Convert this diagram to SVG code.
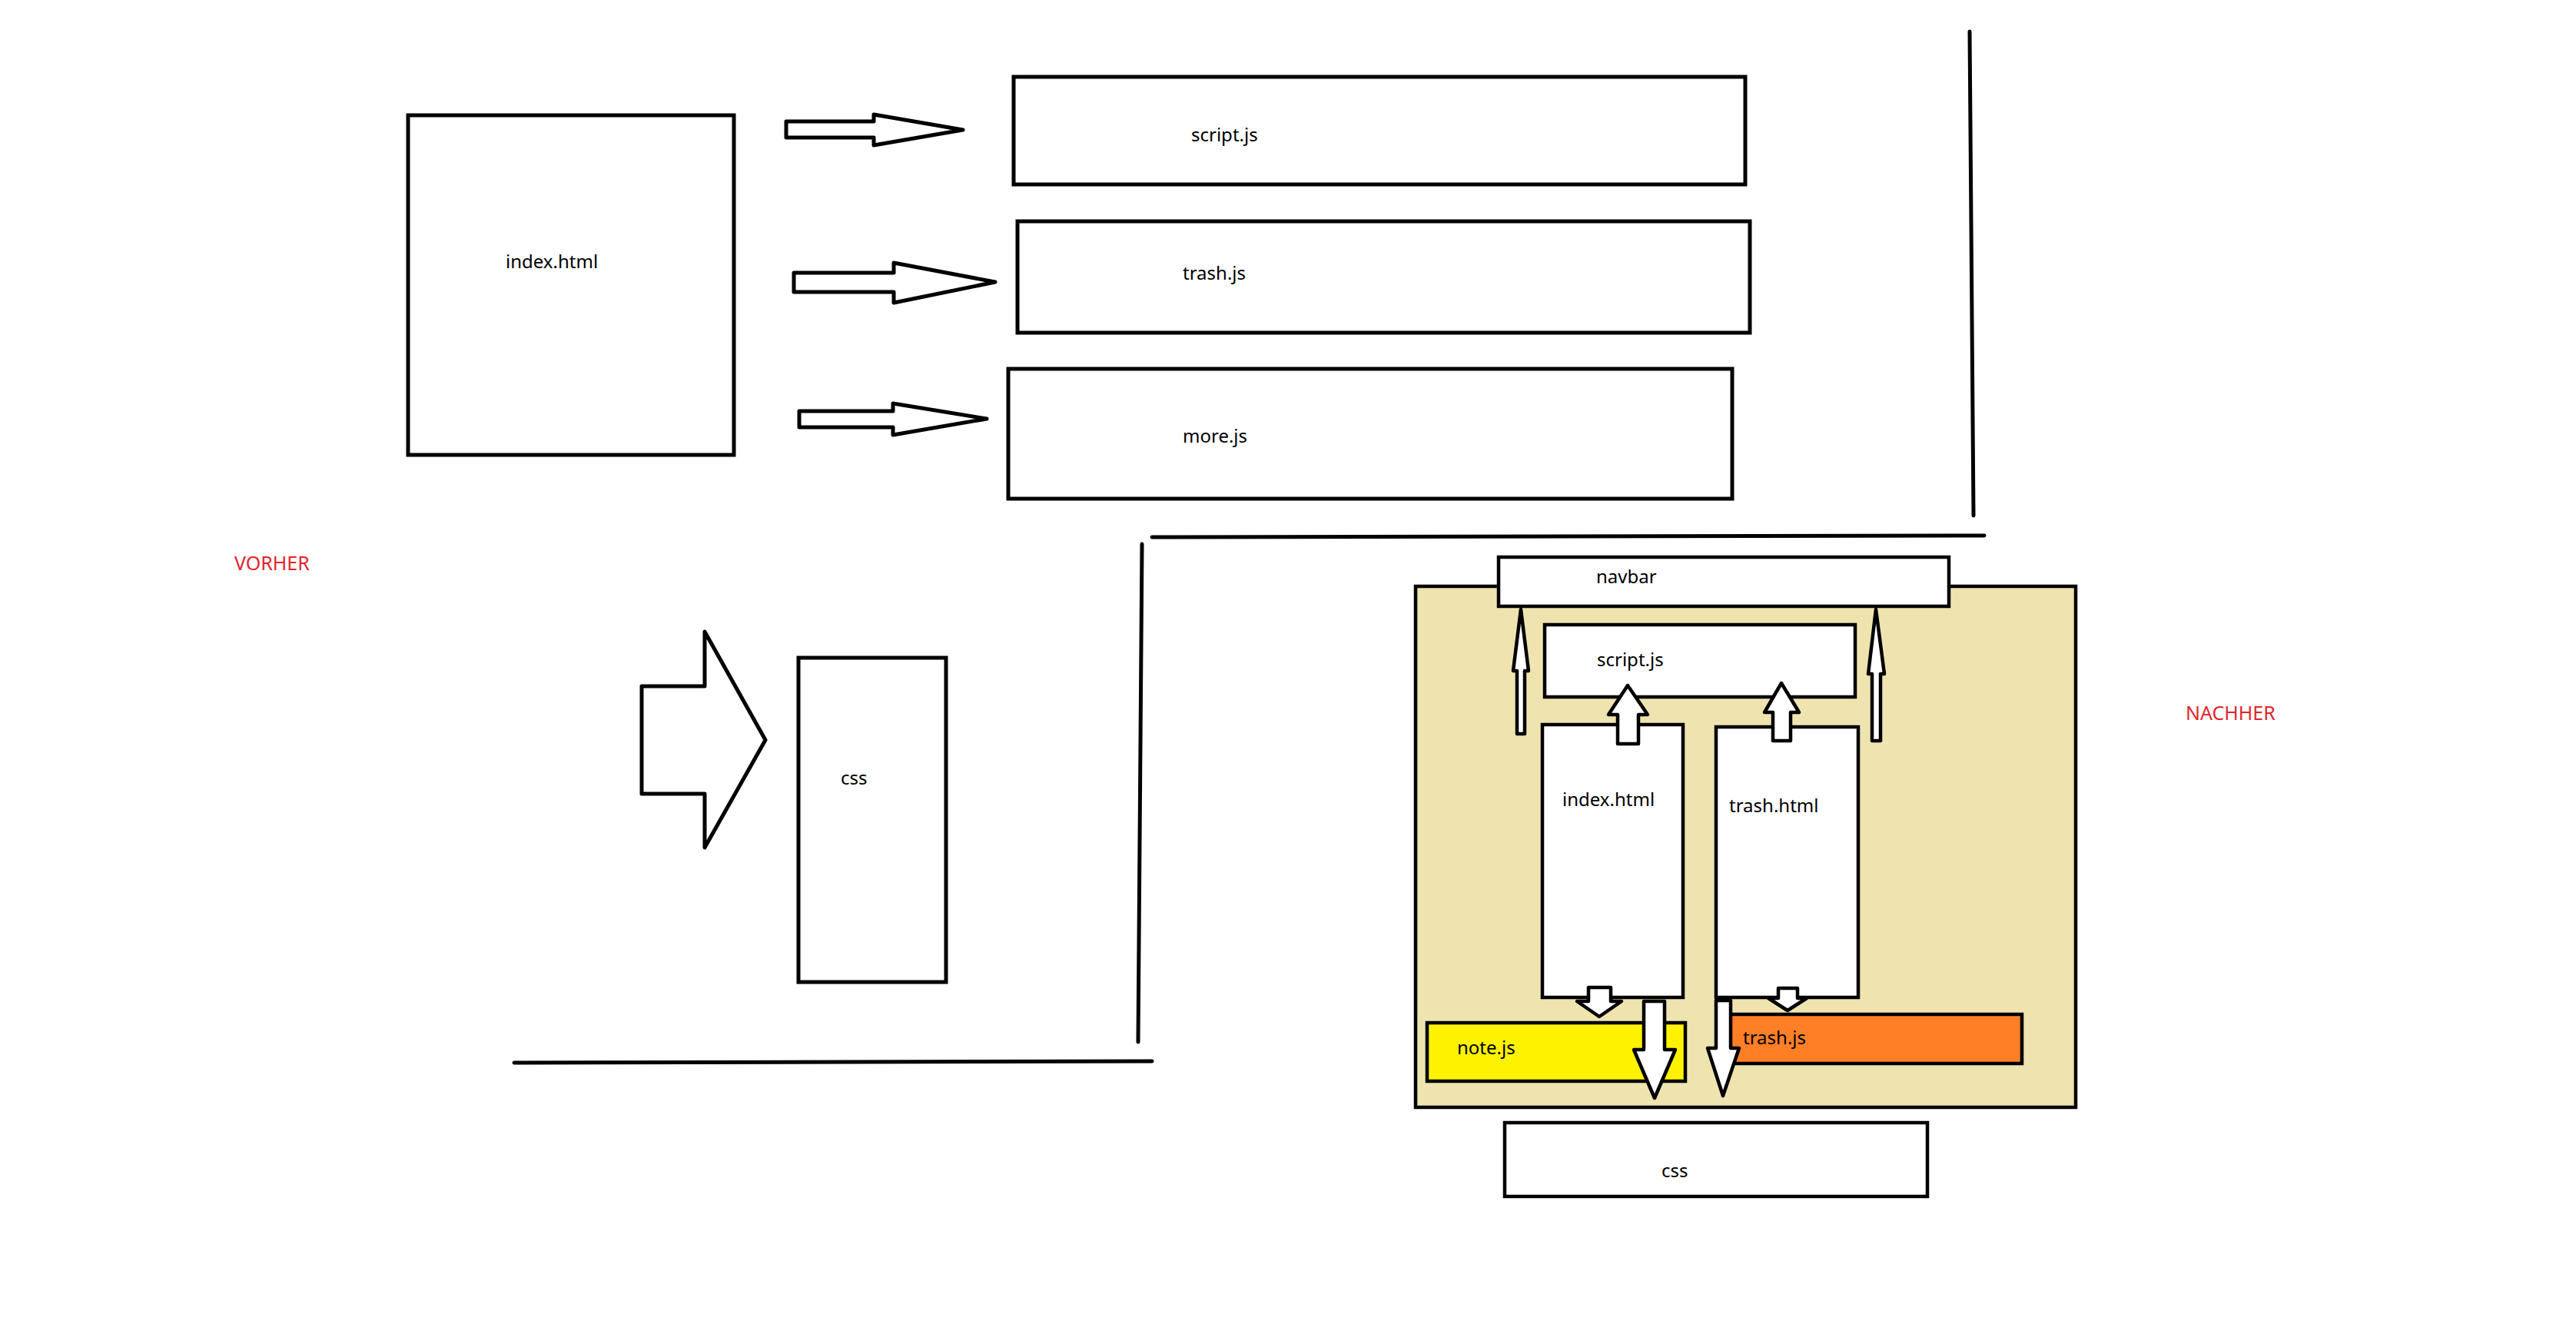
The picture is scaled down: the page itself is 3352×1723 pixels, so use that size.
<svg xmlns="http://www.w3.org/2000/svg" width="3352" height="1723" viewBox="0 0 3352 1723">
<style>
.box{fill:#fff;stroke:#000;stroke-width:5}
.ibox{stroke:#000;stroke-width:4.5}
.arr{fill:#fff;stroke:#000;stroke-width:5;stroke-linejoin:round}
.iarr{fill:#fff;stroke:#000;stroke-width:4.5;stroke-linejoin:round}
.line{fill:none;stroke:#000;stroke-width:5;stroke-linecap:round}
.t{font-family:"Noto Sans","Open Sans","DejaVu Sans",sans-serif;font-size:24px;fill:#000}
.red{font-family:"Noto Sans","Open Sans","DejaVu Sans",sans-serif;font-size:25px;fill:#E0262B}
</style>
<rect x="0" y="0" width="3352" height="1723" fill="#fff"/>

<g id="dividers">
<path class="line" d="M2563 41 L2568 671"/>
<path class="line" d="M1499 699 L2582 697"/>
<path class="line" d="M1486 708 L1481 1356"/>
<path class="line" d="M669 1383 L1499 1381"/>
</g>

<g id="label-vorher"><text class="red" x="305" y="742">VORHER</text></g>
<g id="label-nachher"><text class="red" x="2844" y="937">NACHHER</text></g>

<g id="old-index-html"><rect class="box" x="531" y="150" width="424" height="442"/><text class="t" x="658" y="349">index.html</text></g>
<g id="old-script-js"><rect class="box" x="1319" y="100" width="952" height="140"/><text class="t" x="1550" y="184">script.js</text></g>
<g id="old-trash-js"><rect class="box" x="1324" y="288" width="953" height="145"/><text class="t" x="1539" y="364">trash.js</text></g>
<g id="old-more-js"><rect class="box" x="1312" y="480" width="942" height="169"/><text class="t" x="1539" y="576">more.js</text></g>
<g id="old-css"><rect class="box" x="1039" y="856" width="192" height="422"/><text class="t" x="1094" y="1021">css</text></g>

<g id="container"><rect class="ibox" x="1842" y="763" width="859" height="678" fill="#EFE4B0"/></g>
<g id="navbar"><rect class="ibox" x="1950" y="725" width="586" height="64" fill="#fff"/><text class="t" x="2077" y="759">navbar</text></g>
<g id="new-script-js"><rect class="ibox" x="2010" y="813" width="404" height="94" fill="#fff"/><text class="t" x="2078" y="867">script.js</text></g>
<g id="new-index-html"><rect class="ibox" x="2007" y="943" width="183" height="355" fill="#fff"/><text class="t" x="2033" y="1049">index.html</text></g>
<g id="new-trash-html"><rect class="ibox" x="2233" y="946" width="185" height="352" fill="#fff"/><text class="t" x="2250" y="1057">trash.html</text></g>
<g id="note-js"><rect class="ibox" x="1857" y="1331" width="336" height="76" fill="#FFF200"/><text class="t" x="1896" y="1372">note.js</text></g>
<g id="new-trash-js"><rect class="ibox" x="2250" y="1320" width="381" height="64" fill="#FF7F27"/><text class="t" x="2268" y="1359">trash.js</text></g>
<g id="new-css"><rect class="ibox" x="1958" y="1461" width="550" height="96" fill="#fff"/><text class="t" x="2162" y="1532">css</text></g>

<g id="connectors">
<polygon class="arr" points="1023,158 1137,158 1137,149 1253,169 1137,189 1137,179 1023,179"/>
<polygon class="arr" points="1033,355 1163,355 1163,342 1295,367 1163,394 1163,380 1033,380"/>
<polygon class="arr" points="1040,535 1162,535 1162,525 1284,545 1162,566 1162,556 1040,556"/>
<polygon class="arr" points="835,893 917,893 917,822 996,963 917,1103 917,1033 835,1033"/>
<polygon class="iarr" points="1974,955 1974,873 1969,873 1979,793 1989,873 1984,873 1984,955"/>
<polygon class="iarr" points="2436,964 2436,877 2431,877 2441,793 2452,877 2447,877 2447,964"/>
<polygon class="iarr" points="2105,968 2105,930 2093,930 2118,892 2144,930 2132,930 2132,968"/>
<polygon class="iarr" points="2307,964 2307,927 2296,927 2318,889 2341,927 2330,927 2330,964"/>
<polygon class="iarr" points="2067,1285 2096,1285 2096,1303 2110,1303 2081,1323 2052,1303 2067,1303"/>
<polygon class="iarr" points="2314,1286 2339,1286 2339,1299 2351,1299 2326,1315 2301,1299 2314,1299"/>
<polygon class="iarr" points="2139,1303 2166,1303 2166,1366 2180,1366 2153,1429 2126,1366 2139,1366"/>
<polygon class="iarr" points="2233,1302 2252,1302 2252,1364 2263,1364 2242,1426 2222,1364 2233,1364"/>
</g>
</svg>
